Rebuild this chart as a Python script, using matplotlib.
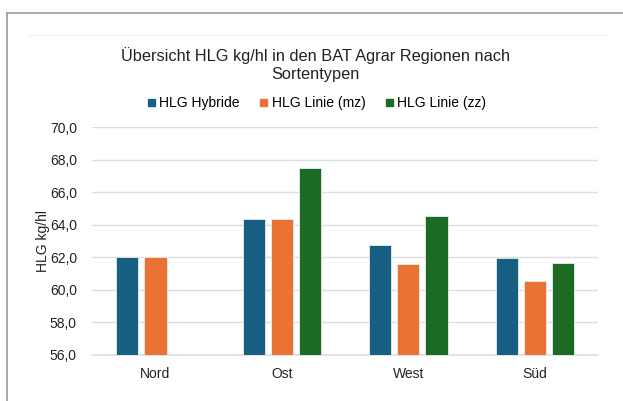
import matplotlib.pyplot as plt
import numpy as np
from matplotlib.lines import Line2D

plt.rcParams['font.family'] = ['Liberation Sans', 'DejaVu Sans']

regionen = ['Nord', 'Ost', 'West', 'Süd']
hybride = [62.0, 64.33, 62.77, 61.95]
linie_mz = [62.0, 64.36, 61.58, 60.56]
linie_zz = [np.nan, 67.48, 64.53, 61.67]
serien = ['HLG Hybride', 'HLG Linie (mz)', 'HLG Linie (zz)']
farben = ['#175f82', '#ea7334', '#1b6b24']

fig = plt.figure(figsize=(6.23, 4.01), dpi=100)
ax = fig.add_axes([0.148, 0.115, 0.812, 0.568])

x = np.arange(len(regionen))
breite = 0.175
for i, (werte, name, farbe) in enumerate(zip([hybride, linie_mz, linie_zz], serien, farben)):
    ax.bar(x + (i - 1) * 0.222, werte, breite, color=farbe, label=name,
           edgecolor='#e8eef0', linewidth=0.6, zorder=3)

ax.set_ylim(56, 70)
ax.set_xlim(-0.5, 3.5)
ax.set_yticks(np.arange(56, 71, 2))
ax.set_yticklabels([f'{v:.1f}'.replace('.', ',') for v in np.arange(56, 71, 2)])
ax.set_xticks(x)
ax.set_xticklabels(regionen)
ax.tick_params(length=0, labelsize=10, colors='#222222', pad=11)
ax.tick_params(axis='x', pad=9)
ax.grid(axis='y', color='#dedede', linewidth=1, zorder=0)
for s in ['left', 'right', 'top']:
    ax.spines[s].set_visible(False)
ax.spines['bottom'].set_color('#dedede')
ax.spines['bottom'].set_linewidth(1.2)
ax.set_ylabel('HLG kg/hl', fontsize=10, color='#222222', labelpad=0)

fig.text(0.507, 0.838, 'Übersicht HLG kg/hl in den BAT Agrar Regionen nach\nSortentypen',
         ha='center', va='center', fontsize=11.8, color='#222222', linespacing=1.25)

handles = [plt.Rectangle((0, 0), 1, 1, color=c) for c in farben]
fig.legend(handles, serien, loc='center', bbox_to_anchor=(0.509, 0.742), ncol=3,
           frameon=False, fontsize=10, handlelength=0.5, handleheight=0.5,
           handletextpad=0.3, columnspacing=1.5)

# Rahmen und Linie oben
fig.add_artist(Line2D([0.011, 1.0], [0.968, 0.968], color='#999999', linewidth=1.2))
fig.add_artist(Line2D([0.011, 0.011], [0.0, 0.968], color='#999999', linewidth=1.2))
fig.add_artist(Line2D([0.046, 0.975], [0.913, 0.913], color='#f0f0f0', linewidth=0.8))

fig.savefig('out.png', dpi=100)
